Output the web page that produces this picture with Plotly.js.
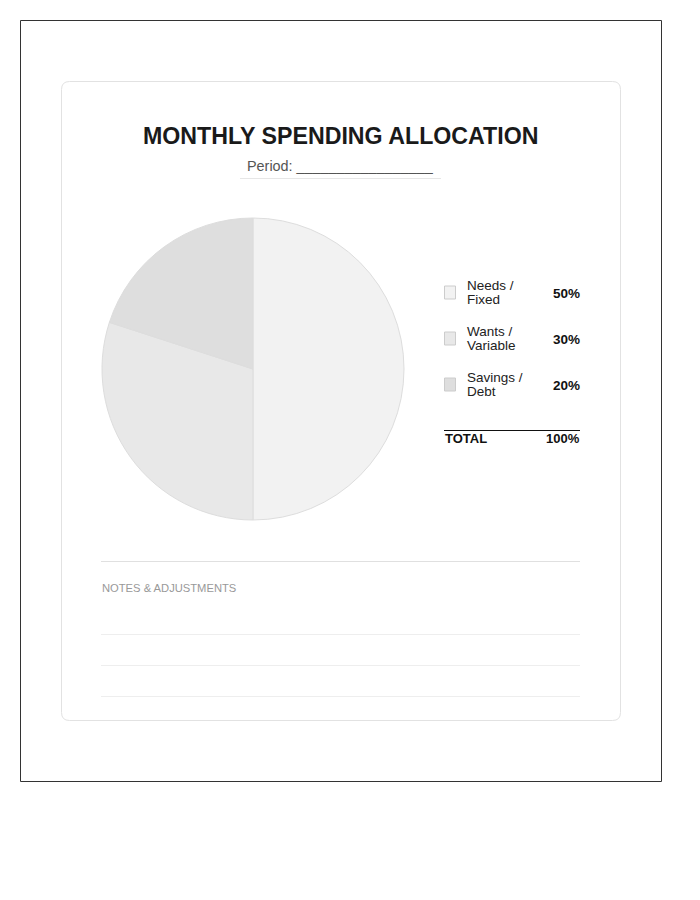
<!DOCTYPE html>
<html>
<head>
<meta charset="utf-8">
<script src="https://cdn.plot.ly/plotly-3.0.1.min.js"></script>
<style>
html,body{margin:0;padding:0;background:#fff;}
#chart{width:700px;height:900px;}
</style>
</head>
<body>
<div id="chart"></div>
<script>
// ---- data ----
var categories = ["Needs / Fixed", "Wants / Variable", "Savings / Debt"];
var labelLines = [["Needs /", "Fixed"], ["Wants /", "Variable"], ["Savings /", "Debt"]];
var shares = [50, 30, 20];
var sliceColors = ["#f2f2f2", "#e8e8e8", "#dedede"];
var totalLabel = "TOTAL";
var titleText = "MONTHLY SPENDING ALLOCATION";
var periodText = "Period: _________________";
var notesTitle = "NOTES & ADJUSTMENTS";

// ---- helpers: pixel -> paper ----
var W = 700, H = 900;
function px(x){ return x / W; }
function py(y){ return 1 - y / H; }

var FONT = "Liberation Sans, Arial, Helvetica, sans-serif";

var shapes = [];
var annotations = [];

// outer frame
shapes.push({type:"rect", xref:"paper", yref:"paper", x0:px(20.5), x1:px(661.5), y0:py(20.5), y1:py(781.5),
  line:{color:"#333333", width:1}, fillcolor:"rgba(0,0,0,0)", layer:"below"});

// rounded card
(function(){
  var l=61.5, r=620.5, t=81.5, b=720.5, rad=8;
  function Q(x,y){ return px(x) + "," + py(y); }
  var path = "M " + Q(l+rad,t) + " L " + Q(r-rad,t) +
    " Q " + Q(r,t) + " " + Q(r,t+rad) +
    " L " + Q(r,b-rad) + " Q " + Q(r,b) + " " + Q(r-rad,b) +
    " L " + Q(l+rad,b) + " Q " + Q(l,b) + " " + Q(l,b-rad) +
    " L " + Q(l,t+rad) + " Q " + Q(l,t) + " " + Q(l+rad,t) + " Z";
  shapes.push({type:"path", xref:"paper", yref:"paper", path:path,
    line:{color:"#e2e2e2", width:1}, fillcolor:"#ffffff", layer:"below"});
})();

// title
annotations.push({xref:"paper", yref:"paper", x:px(341), y:py(136), text:"<b>"+titleText+"</b>",
  showarrow:false, xanchor:"center", yanchor:"middle", font:{family:FONT, size:23.2, color:"#1a1a1a"}});
// period
annotations.push({xref:"paper", yref:"paper", x:px(340.5), y:py(166), text:periodText,
  showarrow:false, xanchor:"center", yanchor:"middle", font:{family:FONT, size:14.4, color:"#555555"}});
shapes.push({type:"line", xref:"paper", yref:"paper", x0:px(240), x1:px(441), y0:py(178.5), y1:py(178.5),
  line:{color:"#e6e6e6", width:1}});

// legend rows
var rowY = [292.5, 338.5, 384.5];
for (var i=0;i<categories.length;i++){
  var cy = rowY[i];
  shapes.push({type:"rect", xref:"paper", yref:"paper", x0:px(444.5), x1:px(455.5), y0:py(cy-6.5), y1:py(cy+6.5),
    line:{color:"#cccccc", width:1}, fillcolor:sliceColors[i]});
  for (var k=0;k<labelLines[i].length;k++){
    annotations.push({xref:"paper", yref:"paper", x:px(464.5), y:py(cy-7.5+15*k), text:labelLines[i][k],
      showarrow:false, xanchor:"left", yanchor:"middle", align:"left",
      font:{family:FONT, size:13.5, color:"#222222"}});
  }
  annotations.push({xref:"paper", yref:"paper", x:px(581.5), y:py(cy+0.5), text:"<b>"+shares[i]+"%</b>",
    showarrow:false, xanchor:"right", yanchor:"middle", font:{family:FONT, size:13.5, color:"#111111"}});
}
// total
var totalShare = shares.reduce(function(a,b){return a+b;},0);
shapes.push({type:"line", xref:"paper", yref:"paper", x0:px(444), x1:px(580), y0:py(430.5), y1:py(430.5),
  line:{color:"#111111", width:1}});
annotations.push({xref:"paper", yref:"paper", x:px(443), y:py(438), text:"<b>"+totalLabel+"</b>",
  showarrow:false, xanchor:"left", yanchor:"middle", font:{family:FONT, size:13, color:"#111111"}});
annotations.push({xref:"paper", yref:"paper", x:px(581.5), y:py(438), text:"<b>"+totalShare+"%</b>",
  showarrow:false, xanchor:"right", yanchor:"middle", font:{family:FONT, size:13, color:"#111111"}});

// notes section
shapes.push({type:"line", xref:"paper", yref:"paper", x0:px(101), x1:px(580), y0:py(561.5), y1:py(561.5),
  line:{color:"#e0e0e0", width:1}});
annotations.push({xref:"paper", yref:"paper", x:px(99.5), y:py(588), text:notesTitle,
  showarrow:false, xanchor:"left", yanchor:"middle", font:{family:FONT, size:11.2, color:"#999999"}});
[634.5, 665.5, 696.5].forEach(function(y){
  shapes.push({type:"line", xref:"paper", yref:"paper", x0:px(101), x1:px(580), y0:py(y), y1:py(y),
    line:{color:"#eeeeee", width:1}});
});

var trace = {
  type:"pie",
  labels: categories,
  values: shares,
  sort:false,
  direction:"clockwise",
  rotation:0,
  marker:{colors:sliceColors, line:{color:"#dddddd", width:1}},
  textinfo:"none",
  hoverinfo:"label+percent",
  showlegend:false,
  domain:{x:[px(102), px(404)], y:[py(520), py(218)]}
};

var layout = {
  width:W, height:H,
  margin:{l:0,r:0,t:0,b:0},
  paper_bgcolor:"#ffffff",
  plot_bgcolor:"#ffffff",
  showlegend:false,
  shapes:shapes,
  annotations:annotations,
  font:{family:FONT}
};

Plotly.newPlot("chart", [trace], layout, {displayModeBar:false, staticPlot:true});
</script>
</body>
</html>
